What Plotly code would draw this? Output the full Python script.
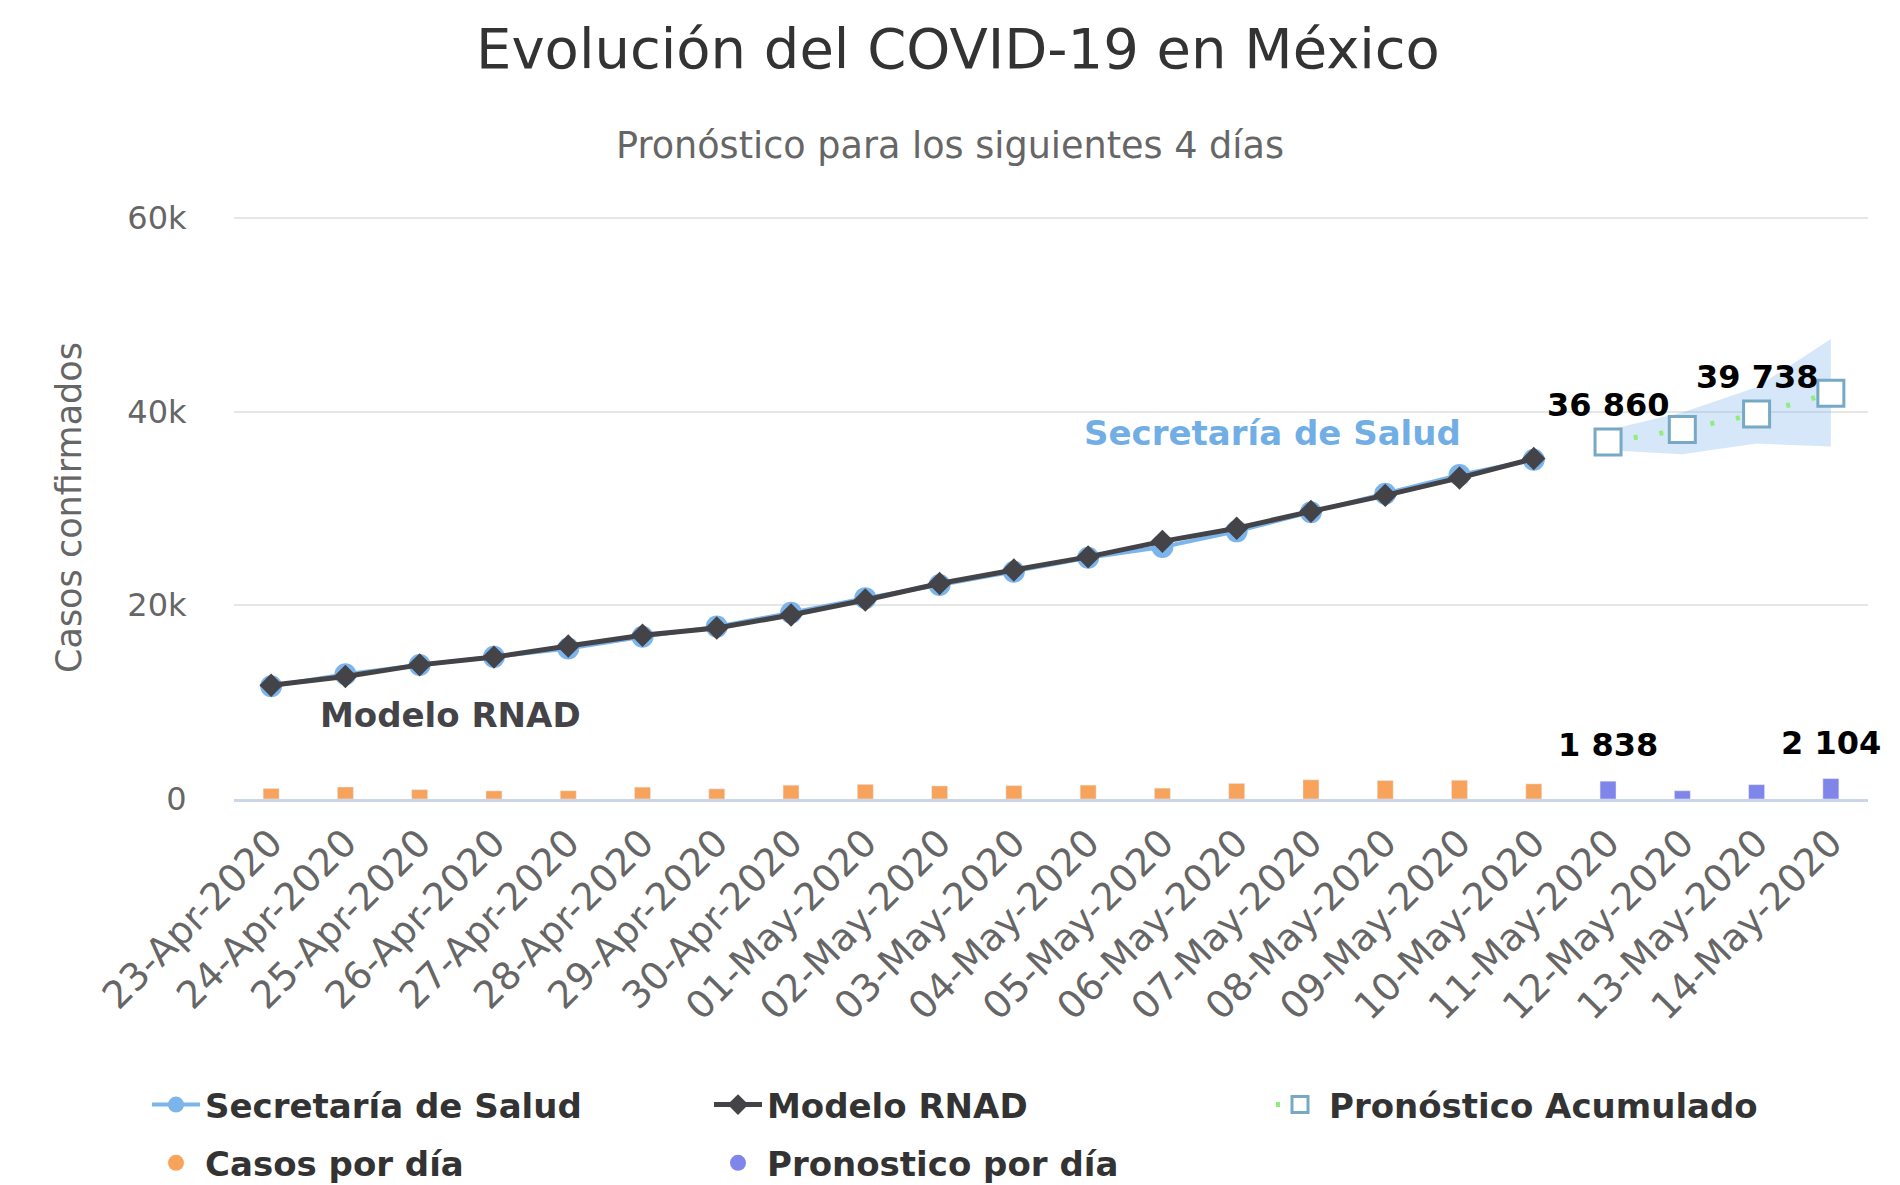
import plotly.graph_objects as go

# fechas
fechas_obs = ["23-Apr-2020", "24-Apr-2020", "25-Apr-2020", "26-Apr-2020", "27-Apr-2020",
              "28-Apr-2020", "29-Apr-2020", "30-Apr-2020", "01-May-2020", "02-May-2020",
              "03-May-2020", "04-May-2020", "05-May-2020", "06-May-2020", "07-May-2020",
              "08-May-2020", "09-May-2020", "10-May-2020"]
fechas_pron = ["11-May-2020", "12-May-2020", "13-May-2020", "14-May-2020"]

# casos acumulados
salud = [11633, 12872, 13842, 14677, 15529, 16752, 17799, 19224, 20739, 22088,
         23471, 24905, 26025, 27634, 29616, 31522, 33460, 35022]
rnad = [11750, 12650, 13850, 14650, 15800, 16900, 17650, 19000, 20550, 22250,
        23650, 25000, 26600, 27950, 29700, 31350, 33150, 35150]
casos_dia = [1089, 1239, 970, 835, 852, 1223, 1047, 1425, 1515, 1349,
             1383, 1434, 1120, 1609, 1982, 1906, 1938, 1562]

# pronostico
pron_acum = [36860, 38150, 39738, 41900]
banda_sup = [38100, 39900, 42500, 47500]
banda_inf = [36000, 35600, 36700, 36400]
pron_dia = [1838, 850, 1480, 2104]

# puntos con etiqueta
etq_acum = [0, 2]
etq_dia = [0, 3]

y_ticks = [0, 20000, 40000, 60000]
y_ticktext = ["0", "20k", "40k", "60k"]

AZUL = "#7cb5ec"
NEGRO = "#434348"
VERDE = "#90ed7d"
NARANJA = "#f7a35c"
MORADO = "#8085e9"
FONT = "DejaVu Sans"

# area de trazado en pixeles de pantalla (la pagina tiene 8px de margen)
OFF = 8
L, R, T, B = 234, 1868, 214, 799


def px_x(x):
    return (x - L) / (R - L)


def px_y(y):
    return (B - y) / (B - T)


def miles(v):
    return f"{v:,}".replace(",", " ")


fig = go.Figure()

# banda de confianza
fig.add_trace(go.Scatter(
    x=fechas_pron + fechas_pron[::-1], y=banda_sup + banda_inf[::-1],
    fill="toself", fillcolor="rgba(124,181,236,0.32)", line=dict(width=0),
    mode="lines", hoverinfo="skip", showlegend=False))

# barras
fig.add_trace(go.Bar(x=fechas_obs, y=casos_dia, marker_color=NARANJA, width=0.215,
                     name="Casos por día", showlegend=False))
fig.add_trace(go.Bar(x=fechas_pron, y=pron_dia, marker_color=MORADO, width=0.215,
                     name="Pronostico por día", showlegend=False))

fig.add_trace(go.Scatter(
    x=fechas_obs, y=salud, mode="lines+markers", name="Secretaría de Salud",
    line=dict(color=AZUL, width=4), legend="legend", legendgroup="a",
    marker=dict(symbol="circle", size=22, color=AZUL)))

fig.add_trace(go.Scatter(
    x=fechas_obs, y=rnad, mode="lines+markers", name="Modelo RNAD",
    line=dict(color=NEGRO, width=5), legend="legend2", legendgroup="c",
    marker=dict(symbol="diamond", size=18, color=NEGRO)))

fig.add_trace(go.Scatter(
    x=fechas_pron, y=pron_acum, mode="lines+markers", name="Pronóstico Acumulado",
    line=dict(color=VERDE, width=5, dash="4px,22px"), legend="legend3", legendgroup="e",
    marker=dict(symbol="square", size=26, color="white",
                line=dict(color="#78a9c4", width=3))))

# entradas de leyenda para las barras (circulos)
fig.add_trace(go.Scatter(x=[None], y=[None], mode="markers", name="Casos por día",
                         legend="legend", legendgroup="b",
                         marker=dict(symbol="circle", size=30, color=NARANJA)))
fig.add_trace(go.Scatter(x=[None], y=[None], mode="markers", name="Pronostico por día",
                         legend="legend2", legendgroup="d",
                         marker=dict(symbol="circle", size=30, color=MORADO)))

for i in etq_acum:
    fig.add_annotation(x=fechas_pron[i], y=pron_acum[i], text=miles(pron_acum[i]),
                       showarrow=False, yshift=37,
                       font=dict(family=FONT, size=32, color="black", weight="bold"))
for i in etq_dia:
    fig.add_annotation(x=fechas_pron[i], y=pron_dia[i], text=miles(pron_dia[i]),
                       showarrow=False, yshift=36,
                       font=dict(family=FONT, size=32, color="black", weight="bold"))

centro = dict(xref="paper", yref="paper", xanchor="center", yanchor="middle",
              showarrow=False)

# etiquetas de series
fig.add_annotation(x=px_x(1272), y=px_y(433), text="Secretaría de Salud",
                   font=dict(family=FONT, size=34, color="#72aee6", weight="bold"), **centro)
fig.add_annotation(x=px_x(450), y=px_y(715), text="Modelo RNAD",
                   font=dict(family=FONT, size=34, color=NEGRO, weight="bold"), **centro)

# subtitulo y titulo del eje y
fig.add_annotation(x=px_x(950), y=px_y(145), text="Pronóstico para los siguientes 4 días",
                   font=dict(family=FONT, size=36.6, color="#666666"), **centro)
fig.add_annotation(x=px_x(69), y=px_y(508), text="Casos confirmados", textangle=-90,
                   font=dict(family=FONT, size=35, color="#666666"), **centro)

leg_font = dict(family=FONT, size=34, color="#333333", weight="bold")
leg_comun = dict(orientation="v", xanchor="left", yanchor="top", y=px_y(1076),
                 itemwidth=48, font=leg_font, bgcolor="rgba(0,0,0,0)",
                 tracegroupgap=11)

fig.update_layout(
    width=1900, height=1185,
    margin=dict(l=L - OFF, r=1900 - R + OFF, t=T - OFF, b=1185 - B + OFF,
                autoexpand=False),
    paper_bgcolor="white", plot_bgcolor="white",
    barmode="overlay",
    title=dict(text="Evolución del COVID-19 en México", x=0.5, xref="container",
               y=1 - (48 - OFF) / 1185, yref="container", yanchor="middle",
               xanchor="center",
               font=dict(family=FONT, size=56, color="#333333")),
    font=dict(family=FONT, color="#666666"),
    legend=dict(x=px_x(147), **leg_comun),
    legend2=dict(x=px_x(709), **leg_comun),
    legend3=dict(x=px_x(1271), **leg_comun),
    hovermode=False,
)

fig.update_xaxes(
    categoryorder="array", categoryarray=fechas_obs + fechas_pron,
    range=[-0.5, 21.5], tickangle=-45, showgrid=False, automargin=False,
    showline=True, linecolor="#ccd6eb", linewidth=3,
    ticks="outside", ticklen=3, tickcolor="rgba(0,0,0,0)",
    tickfont=dict(family=FONT, size=38, color="#666666"))

fig.update_yaxes(
    range=[0, 60400], tickvals=y_ticks, ticktext=y_ticktext, automargin=False,
    showgrid=True, gridcolor="#e6e6e6", gridwidth=2, zeroline=False,
    ticks="outside", ticklen=40, tickcolor="rgba(0,0,0,0)",
    tickfont=dict(family=FONT, size=32, color="#666666"))

fig.write_html("out.html")
